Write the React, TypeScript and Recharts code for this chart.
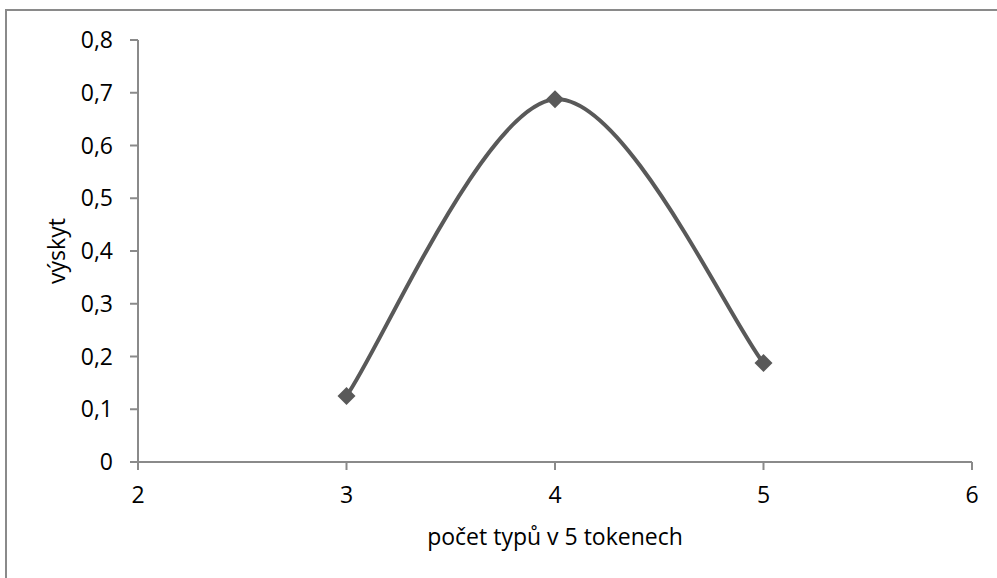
import { CartesianGrid, Line, LineChart, XAxis, YAxis } from "recharts";

// počet různých typů v pětici tokenů a relativní výskyt
const typeCounts = [3, 4, 5];
const occurrence = [0.125, 0.6875, 0.1875];

const xTicks = [2, 3, 4, 5, 6];
const yTicks = [0, 0.1, 0.2, 0.3, 0.4, 0.5, 0.6, 0.7, 0.8];

const LINE = "#595959";
const AXIS = "#8a8a8a";
const FONT = "'Open Sans', sans-serif";
const FS = 23;

const data = typeCounts.map((t, i) => ({ t, v: occurrence[i] }));

// vyhlazená křivka ve stylu tabulkového editoru (Bezier, řídicí body = 1/6 sousedů)
function smoothCurve(context: any) {
  let pts: [number, number][] = [];
  return {
    areaStart() {},
    areaEnd() {},
    lineStart() {
      pts = [];
    },
    point(x: number, y: number) {
      pts.push([+x, +y]);
    },
    lineEnd() {
      if (!pts.length) return;
      context.moveTo(pts[0][0], pts[0][1]);
      for (let i = 0; i < pts.length - 1; i++) {
        const p0 = pts[Math.max(i - 1, 0)];
        const p1 = pts[i];
        const p2 = pts[i + 1];
        const p3 = pts[Math.min(i + 2, pts.length - 1)];
        context.bezierCurveTo(
          p1[0] + (p2[0] - p0[0]) / 6,
          p1[1] + (p2[1] - p0[1]) / 6,
          p2[0] - (p3[0] - p1[0]) / 6,
          p2[1] - (p3[1] - p1[1]) / 6,
          p2[0],
          p2[1]
        );
      }
    },
  };
}

function Diamond(props: any) {
  const { cx, cy, index } = props;
  if (cx == null || cy == null) return <g key={`d-${index}`} />;
  const r = 9;
  return (
    <path
      key={`d-${index}`}
      d={`M${cx},${cy - r}L${cx + r},${cy}L${cx},${cy + r}L${cx - r},${cy}Z`}
      fill={LINE}
      stroke="none"
    />
  );
}

const fmtComma = (v: number) => String(v).replace(".", ",");

export default function App() {
  return (
    <div style={{ position: "absolute", left: 0, top: 0, width: 997, height: 578, background: "#fff", overflow: "hidden" }}>
      <div
        style={{
          position: "absolute",
          left: 5,
          top: 9,
          width: 1000,
          height: 600,
          borderLeft: `2px solid ${AXIS}`,
          borderTop: `2px solid ${AXIS}`,
        }}
      />
      <div style={{ position: "absolute", left: 0, top: 0 }}>
        <LineChart width={997} height={578} data={data} margin={{ top: 40, right: 25, bottom: 33, left: 0 }}>
          <CartesianGrid horizontal={false} vertical={false} />
          <XAxis
            dataKey="t"
            type="number"
            domain={[2, 6]}
            ticks={xTicks}
            interval={0}
            height={83}
            tickSize={8}
            tickMargin={17}
            axisLine={{ stroke: AXIS, strokeWidth: 2 }}
            tickLine={{ stroke: AXIS, strokeWidth: 2 }}
            tick={{ fill: "#000", fontSize: FS, fontFamily: FONT }}
            label={{
              value: "počet typů v 5 tokenech",
              position: "insideBottom",
              offset: 0,
              fill: "#000",
              fontSize: FS,
              fontFamily: FONT,
            }}
          />
          <YAxis
            type="number"
            domain={[0, 0.8]}
            ticks={yTicks}
            interval={0}
            width={138}
            tickSize={8}
            tickMargin={17}
            tickFormatter={fmtComma}
            axisLine={{ stroke: AXIS, strokeWidth: 2 }}
            tickLine={{ stroke: AXIS, strokeWidth: 2 }}
            tick={{ fill: "#000", fontSize: FS, fontFamily: FONT }}
            label={{
              value: "výskyt",
              angle: -90,
              position: "insideLeft",
              offset: 57,
              fill: "#000",
              fontSize: FS,
              fontFamily: FONT,
              style: { textAnchor: "middle" },
            }}
          />
          <Line
            dataKey="v"
            type={smoothCurve as any}
            stroke={LINE}
            strokeWidth={4}
            dot={Diamond}
            activeDot={false}
            isAnimationActive={false}
          />
        </LineChart>
      </div>
    </div>
  );
}
